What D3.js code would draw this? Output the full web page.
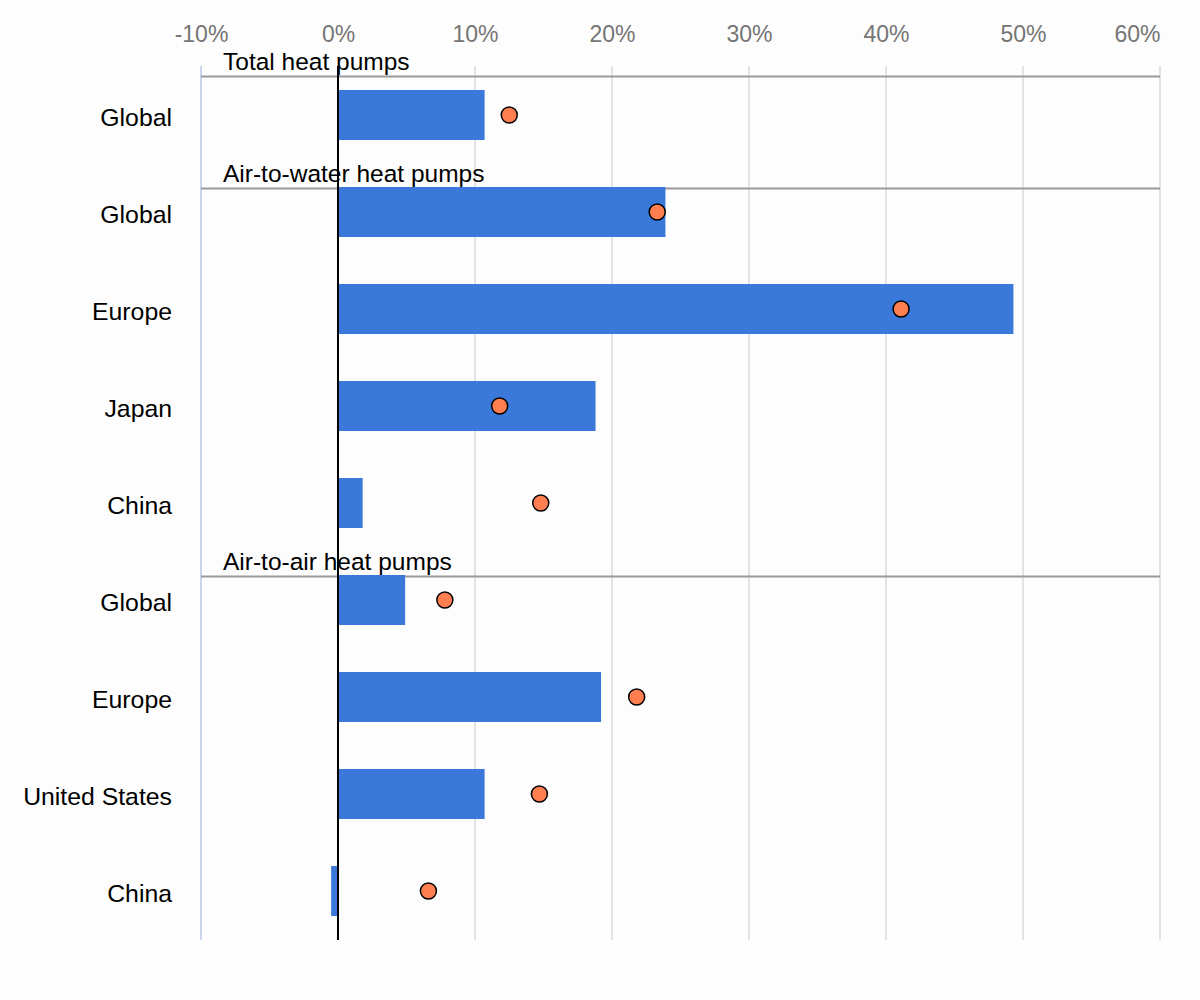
<!DOCTYPE html>
<html>
<head>
<meta charset="utf-8">
<script src="https://cdn.jsdelivr.net/npm/d3@7"></script>
<style>
  html, body { margin: 0; padding: 0; background: #ffffff; }
  svg { display: block; font-family: "Liberation Sans", Arial, sans-serif; }
</style>
</head>
<body>
<svg id="chart" width="1200" height="1000"></svg>
<script>
// ---- data ----
const rowIds = ["tot-global", "a2w-global", "a2w-europe", "a2w-japan", "a2w-china",
                "a2a-global", "a2a-europe", "a2a-us", "a2a-china"];
const rowLabels = ["Global", "Global", "Europe", "Japan", "China",
                   "Global", "Europe", "United States", "China"];
const barValues = [10.7, 23.9, 49.3, 18.8, 1.8, 4.9, 19.2, 10.7, -0.5];
const dotValues = [12.5, 23.3, 41.1, 11.8, 14.8, 7.8, 21.8, 14.7, 6.6];
const sectionTitles = ["Total heat pumps", "Air-to-water heat pumps", "Air-to-air heat pumps"];
const sectionStartRow = ["tot-global", "a2w-global", "a2a-global"];
const tickValues = [-10, 0, 10, 20, 30, 40, 50, 60];

// ---- layout ----
const svg = d3.select("#chart");
svg.append("rect").attr("width", 1200).attr("height", 1000).attr("fill", "#fdfdfd");

const x = d3.scaleLinear().domain([-10, 60]).range([201, 1160]);
const y = d3.scaleBand().domain(rowIds).range([66.5, 939.5]).paddingInner(0).paddingOuter(0);
const barH = 50;

// gridlines
const grid = svg.append("g");
grid.selectAll("line").data(tickValues.filter(v => v !== 0)).join("line")
  .attr("x1", d => x(d)).attr("x2", d => x(d))
  .attr("y1", 66).attr("y2", 940)
  .attr("stroke", d => d === -10 ? "#c9d3ea" : "#e3e3e3")
  .attr("stroke-width", 2);

// axis tick labels
const axis = d3.axisTop(x).tickValues(tickValues).tickFormat(d => d + "%").tickSize(0).tickPadding(0);
const axG = svg.append("g").attr("transform", "translate(0,42)").call(axis);
axG.select(".domain").remove();
axG.selectAll("text")
  .attr("font-size", 23).attr("fill", "#757575")
  .attr("font-family", "'Liberation Sans', Arial, sans-serif")
  .attr("dy", 0)
  .each(function(d) {
    if (d === 60) d3.select(this).attr("text-anchor", "end").attr("x", 1160 - x(60));
  });

// section separator lines and titles
const secOffset = [-39.5, -24.5, -24.5];
sectionStartRow.forEach((r, i) => {
  const ly = y(r) + secOffset[i] + 49.5;
  svg.append("line")
    .attr("x1", x(-10)).attr("x2", x(60))
    .attr("y1", ly).attr("y2", ly)
    .attr("stroke", "#9a9a9a").attr("stroke-width", 2);
  svg.append("text")
    .attr("x", 223).attr("y", ly - 7)
    .attr("font-size", 24.5).attr("fill", "#000")
    .text(sectionTitles[i]);
});

// bars
svg.append("g").selectAll("rect").data(rowIds).join("rect")
  .attr("x", (d, i) => x(Math.min(0, barValues[i])))
  .attr("width", (d, i) => Math.abs(x(barValues[i]) - x(0)))
  .attr("y", d => y(d) + y.bandwidth() / 2 - barH / 2)
  .attr("height", barH)
  .attr("fill", "#3a78d9");

// zero line
svg.append("line")
  .attr("x1", x(0)).attr("x2", x(0)).attr("y1", 66).attr("y2", 940)
  .attr("stroke", "#000").attr("stroke-width", 2);

// dots
svg.append("g").selectAll("circle").data(rowIds).join("circle")
  .attr("cx", (d, i) => x(dotValues[i]))
  .attr("cy", d => y(d) + y.bandwidth() / 2)
  .attr("r", 8)
  .attr("fill", "#ff7f50")
  .attr("stroke", "#000").attr("stroke-width", 1.5);

// category labels
svg.append("g").selectAll("text").data(rowIds).join("text")
  .attr("x", 172)
  .attr("y", d => y(d) + y.bandwidth() / 2 + 10.5)
  .attr("text-anchor", "end")
  .attr("font-size", 24.8).attr("fill", "#000")
  .text((d, i) => rowLabels[i]);
</script>
</body>
</html>
